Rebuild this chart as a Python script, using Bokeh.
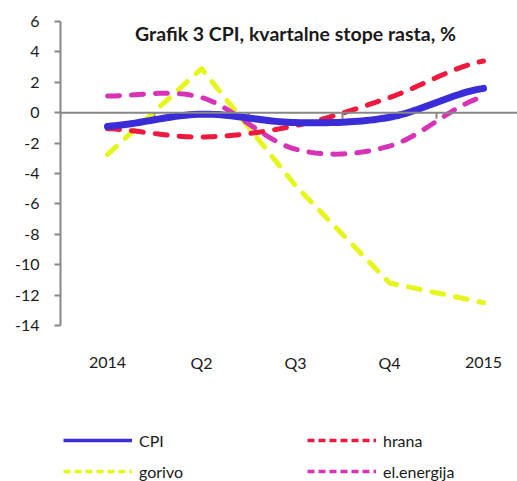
import numpy as np
from bokeh.plotting import figure
from bokeh.models import (FixedTicker, Span, Legend, LegendItem, Label)
from bokeh.core.properties import value
from bokeh.embed import file_html
from bokeh.resources import INLINE

# ---- data ----
categories = ["2014", "Q2", "Q3", "Q4", "2015"]
cpi = [-0.9, -0.1, -0.65, -0.3, 1.6]
hrana = [-1.05, -1.6, -0.85, 1.0, 3.4]
gorivo = [-2.75, 2.9, -4.8, -11.2, -12.5]
el_energija = [1.1, 1.0, -2.4, -2.2, 1.05]
y_ticks = [-14, -12, -10, -8, -6, -4, -2, 0, 2, 4, 6]

FONT = "Lato"
GRAY = "#878787"
TXT = "#1a1a1a"
C_CPI, C_HR, C_GOR, C_EL = "#3a2dd8", "#ee1a3e", "#e6f51c", "#d832b6"

# ---- layout constants (pixels) ----
W, H = 517, 481
LEFT, TOP = 60, 21
AXIS_PX = 304            # pixel height of the value axis (6 .. -14)
CAT_PX = 94              # pixel width of one category


def smooth(xs, ys, n=24):
    """Excel-like smoothed line (Catmull-Rom through the data points)."""
    xs = np.asarray(xs, float)
    ys = np.asarray(ys, float)
    px = np.concatenate([[xs[0]], xs, [xs[-1]]])
    py = np.concatenate([[ys[0]], ys, [ys[-1]]])
    ox, oy = [], []
    for i in range(1, len(px) - 2):
        p0, p1, p2, p3 = py[i - 1], py[i], py[i + 1], py[i + 2]
        x1, x2 = px[i], px[i + 1]
        m1 = (p2 - p0) / 2.0
        m2 = (p3 - p1) / 2.0
        t = np.linspace(0, 1, n, endpoint=(i == len(px) - 3))
        h00 = 2 * t**3 - 3 * t**2 + 1
        h10 = t**3 - 2 * t**2 + t
        h01 = -2 * t**3 + 3 * t**2
        h11 = t**3 - t**2
        oy.extend(h00 * p1 + h10 * m1 + h01 * p2 + h11 * m2)
        ox.extend(x1 + t * (x2 - x1))
    return ox, oy


xpos = list(range(len(categories)))
ymin, ymax = y_ticks[0], y_ticks[-1]
ppu = AXIS_PX / (ymax - ymin)                    # pixels per unit
y_start = ymax - (H - TOP) / ppu                 # frame reaches the bottom
x_end = -0.5 + (W - LEFT) / CAT_PX

p = figure(width=W, height=H, output_backend="svg", toolbar_location=None,
           x_range=(-0.5, x_end), y_range=(y_start, ymax),
           x_axis_location=None,
           min_border_left=LEFT, min_border_right=0, min_border_top=TOP,
           min_border_bottom=0)
p.title.visible = False
p.outline_line_color = None
p.grid.visible = False
p.background_fill_color = "white"
p.border_fill_color = "white"

# y axis
ya = p.yaxis[0]
ya.ticker = FixedTicker(ticks=y_ticks)
ya.major_label_overrides = {t: str(t) for t in y_ticks}
ya.bounds = (ymin, ymax)
ya.axis_line_color = GRAY
ya.axis_line_width = 2
ya.major_tick_line_color = GRAY
ya.major_tick_line_width = 2
ya.major_tick_out = 6
ya.major_tick_in = 0
ya.minor_tick_line_color = None
ya.major_label_standoff = 15
ya.major_label_text_font = FONT
ya.major_label_text_font_size = "16px"
ya.major_label_text_color = TXT

# category labels (placed low, below the value axis)
label_y = ymin - 37 / ppu
p.text(x=xpos, y=[label_y] * len(xpos), text=categories,
       text_align="center", text_baseline="middle",
       text_font=value(FONT), text_font_size="16px", text_color=TXT)

# zero line with category separator ticks
p.add_layout(Span(location=0, dimension="width", line_color=GRAY, line_width=2))
sep = [i + 0.5 for i in xpos[:-1]]
p.segment(x0=sep, x1=sep, y0=[0] * len(sep), y1=[-6 / ppu] * len(sep),
          line_color=GRAY, line_width=2)

# series
dash = dict(line_width=5, line_dash="12 12", line_cap="round", line_join="round")
p.line(xpos, gorivo, line_color=C_GOR, **dash)
ex, ey = smooth(xpos, el_energija)
p.line(ex, ey, line_color=C_EL, **dash)
hx, hy = smooth(xpos, hrana)
p.line(hx, hy, line_color=C_HR, **dash)
cx, cy = smooth(xpos, cpi)
p.line(cx, cy, line_color=C_CPI, line_width=7, line_cap="round", line_join="round")

# legend keys (thinner strokes, as in the reference legend); a one-point line
# draws nothing in the plot but gives the legend its key style
ldash = dict(line_width=3.5, line_dash="7 4")
k_cpi = p.line(x=xpos[:1], y=cpi[:1], line_color=C_CPI, line_width=3.5)
k_hr = p.line(x=xpos[:1], y=hrana[:1], line_color=C_HR, **ldash)
k_gor = p.line(x=xpos[:1], y=gorivo[:1], line_color=C_GOR, **ldash)
k_el = p.line(x=xpos[:1], y=el_energija[:1], line_color=C_EL, **ldash)

# title inside the plot area
p.add_layout(Label(x=2.0, y=ymax - 12 / ppu,
                   text="Grafik 3 CPI, kvartalne stope rasta, %",
                   text_align="center", text_baseline="middle",
                   text_font=FONT, text_font_style="bold",
                   text_font_size="19.5px", text_color=TXT))

legend = Legend(items=[LegendItem(label="CPI", renderers=[k_cpi]),
                       LegendItem(label="hrana", renderers=[k_hr]),
                       LegendItem(label="gorivo", renderers=[k_gor]),
                       LegendItem(label="el.energija", renderers=[k_el])],
                ncols=2, location=(3, 0), orientation="horizontal")
legend.glyph_width = 69
legend.glyph_height = 20
legend.label_height = 20
legend.label_standoff = 7
legend.label_width = 157
legend.spacing = 11
legend.padding = 0
legend.margin = 0
legend.border_line_color = None
legend.background_fill_alpha = 0
legend.label_text_font = FONT
legend.label_text_font_size = "16px"
legend.label_text_color = TXT
p.add_layout(legend, "center")

open("out.html", "w").write(file_html(p, INLINE))
